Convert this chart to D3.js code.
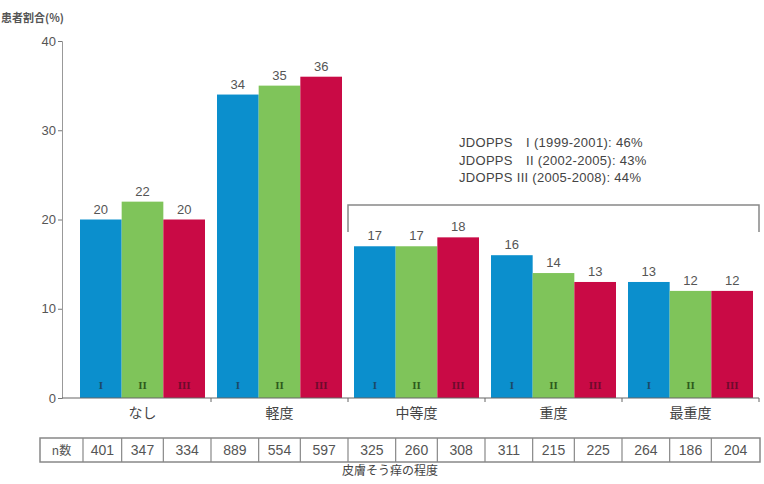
<!DOCTYPE html>
<html><head><meta charset="utf-8">
<script src="https://cdn.jsdelivr.net/npm/d3@7"></script>
<style>body{margin:0;background:#fff}svg{display:block}</style>
</head><body><div id="c"></div>
<script>
const categories = ["なし","軽度","中等度","重度","最重度"];
const series = ["I","II","III"];
const valuesI   = [20,34,17,16,13];
const valuesII  = [22,35,17,14,12];
const valuesIII = [20,36,18,13,12];
const nI   = [401,889,325,311,264];
const nII  = [347,554,260,215,186];
const nIII = [334,597,308,225,204];
const yTicks = [0,10,20,30,40];
const legendLines = ["JDOPPS　I (1999-2001): 46%","JDOPPS　II (2002-2005): 43%","JDOPPS III (2005-2008): 44%"];
const colors = ["#0b8fcd","#7fc45a","#c90a45"];
const darkColors = ["#1b4a66","#2e5a1c","#6e0a2c"];

const CJK='"Noto Sans CJK JP","Noto Sans",sans-serif';
const LAT='"Liberation Sans",Arial,sans-serif';
const W=764,H=484;
const svg=d3.select("#c").append("svg").attr("width",W).attr("height",H);
const y=d3.scaleLinear().domain([0,40]).range([398,41]);
const x0=d3.scaleBand().domain(categories).range([74,759]);
const x1=d3.scaleBand().domain(series).range([6,x0.bandwidth()-6]);
const vals=[valuesI,valuesII,valuesIII];
const ns=[nI,nII,nIII];
const gray="#555";

// y title
svg.append("text").attr("x",1).attr("y",22).attr("font-size",11).attr("font-weight","bold").attr("fill","#555").style("font-family",CJK).text("患者割合(%)");

// y axis
const ya=svg.append("g").attr("transform","translate(62,0)")
 .call(d3.axisLeft(y).tickValues(yTicks).tickSize(4).tickPadding(2));
ya.select(".domain").attr("stroke","#999");
ya.selectAll(".tick line").attr("stroke","#777");
ya.selectAll(".tick text").attr("font-size",13).attr("fill",gray).style("font-family",LAT);

// bars
categories.forEach((c,i)=>{
  series.forEach((s,j)=>{
    const v=vals[j][i];
    const bx=x0(c)+x1(s);
    svg.append("rect").attr("x",bx).attr("y",y(v)).attr("width",x1.bandwidth()).attr("height",y(0)-y(v)).attr("fill",colors[j]);
    svg.append("text").attr("x",bx+x1.bandwidth()/2).attr("y",y(v)-6).attr("text-anchor","middle")
      .attr("font-size",13).attr("fill",gray).style("font-family",LAT).text(v);
    svg.append("text").attr("x",bx+x1.bandwidth()/2).attr("y",389).attr("text-anchor","middle")
      .attr("font-size",11).attr("font-weight","bold").attr("fill",darkColors[j]).style("font-family",'"Liberation Serif",serif').text(s);
  });
});

// x axis line + boundary ticks
svg.append("line").attr("x1",62).attr("x2",759).attr("y1",y(0)).attr("y2",y(0)).attr("stroke","#666").attr("stroke-width",1.2);
categories.forEach(c=>{
  const xe=x0(c)+x0.bandwidth();
  svg.append("line").attr("x1",xe).attr("x2",xe).attr("y1",y(0)).attr("y2",y(0)+4).attr("stroke","#666");
});
// category labels
categories.forEach(c=>{
  svg.append("text").attr("x",x0(c)+x0.bandwidth()/2).attr("y",418).attr("text-anchor","middle")
    .attr("font-size",14).attr("fill","#444").style("font-family",CJK).text(c);
});

// table
const tTop=438,tBot=462;
const edges=[];
categories.forEach((c,i)=>{
  const g=x0(c);
  edges.push(i===0? g+x1("I")+3 : g);
  edges.push(g+x1("II"));
  edges.push(g+x1("III"));
});
edges.push(x0(categories[4])+x0.bandwidth()+1);
const tLeft=40;
const tb=svg.append("g");
tb.append("rect").attr("x",tLeft).attr("y",tTop).attr("width",edges[edges.length-1]-tLeft).attr("height",tBot-tTop)
  .attr("fill","none").attr("stroke","#888").attr("stroke-width",1.5);
edges.slice(0,-1).forEach(e=>{
  tb.append("line").attr("x1",e).attr("x2",e).attr("y1",tTop).attr("y2",tBot).attr("stroke","#888").attr("stroke-width",1.2);
});
tb.append("text").attr("x",(tLeft+edges[0])/2).attr("y",455).attr("text-anchor","middle").attr("font-size",12).attr("fill",gray).style("font-family",CJK).text("n数");
categories.forEach((c,i)=>{
  series.forEach((s,j)=>{
    const k=i*3+j;
    tb.append("text").attr("x",(edges[k]+edges[k+1])/2).attr("y",455).attr("text-anchor","middle")
      .attr("font-size",14).attr("fill",gray).style("font-family",LAT).text(ns[j][i]);
  });
});
svg.append("text").attr("x",390).attr("y",475).attr("text-anchor","middle").attr("font-size",12).attr("fill","#444").style("font-family",CJK).text("皮膚そう痒の程度");

// bracket and legend
const bL=x0(categories[2]), bR=x0(categories[4])+x0.bandwidth();
svg.append("path").attr("d",`M${bL},232V205H${bR}V232`).attr("fill","none").attr("stroke","#888").attr("stroke-width",1.5);
legendLines.forEach((t,i)=>{
  svg.append("text").attr("x",459).attr("y",147+i*17.5).attr("font-size",13).attr("fill","#444")
    .style("font-family",LAT).style("letter-spacing","0.3px").style("white-space","pre").text(t);
});
</script></body></html>
